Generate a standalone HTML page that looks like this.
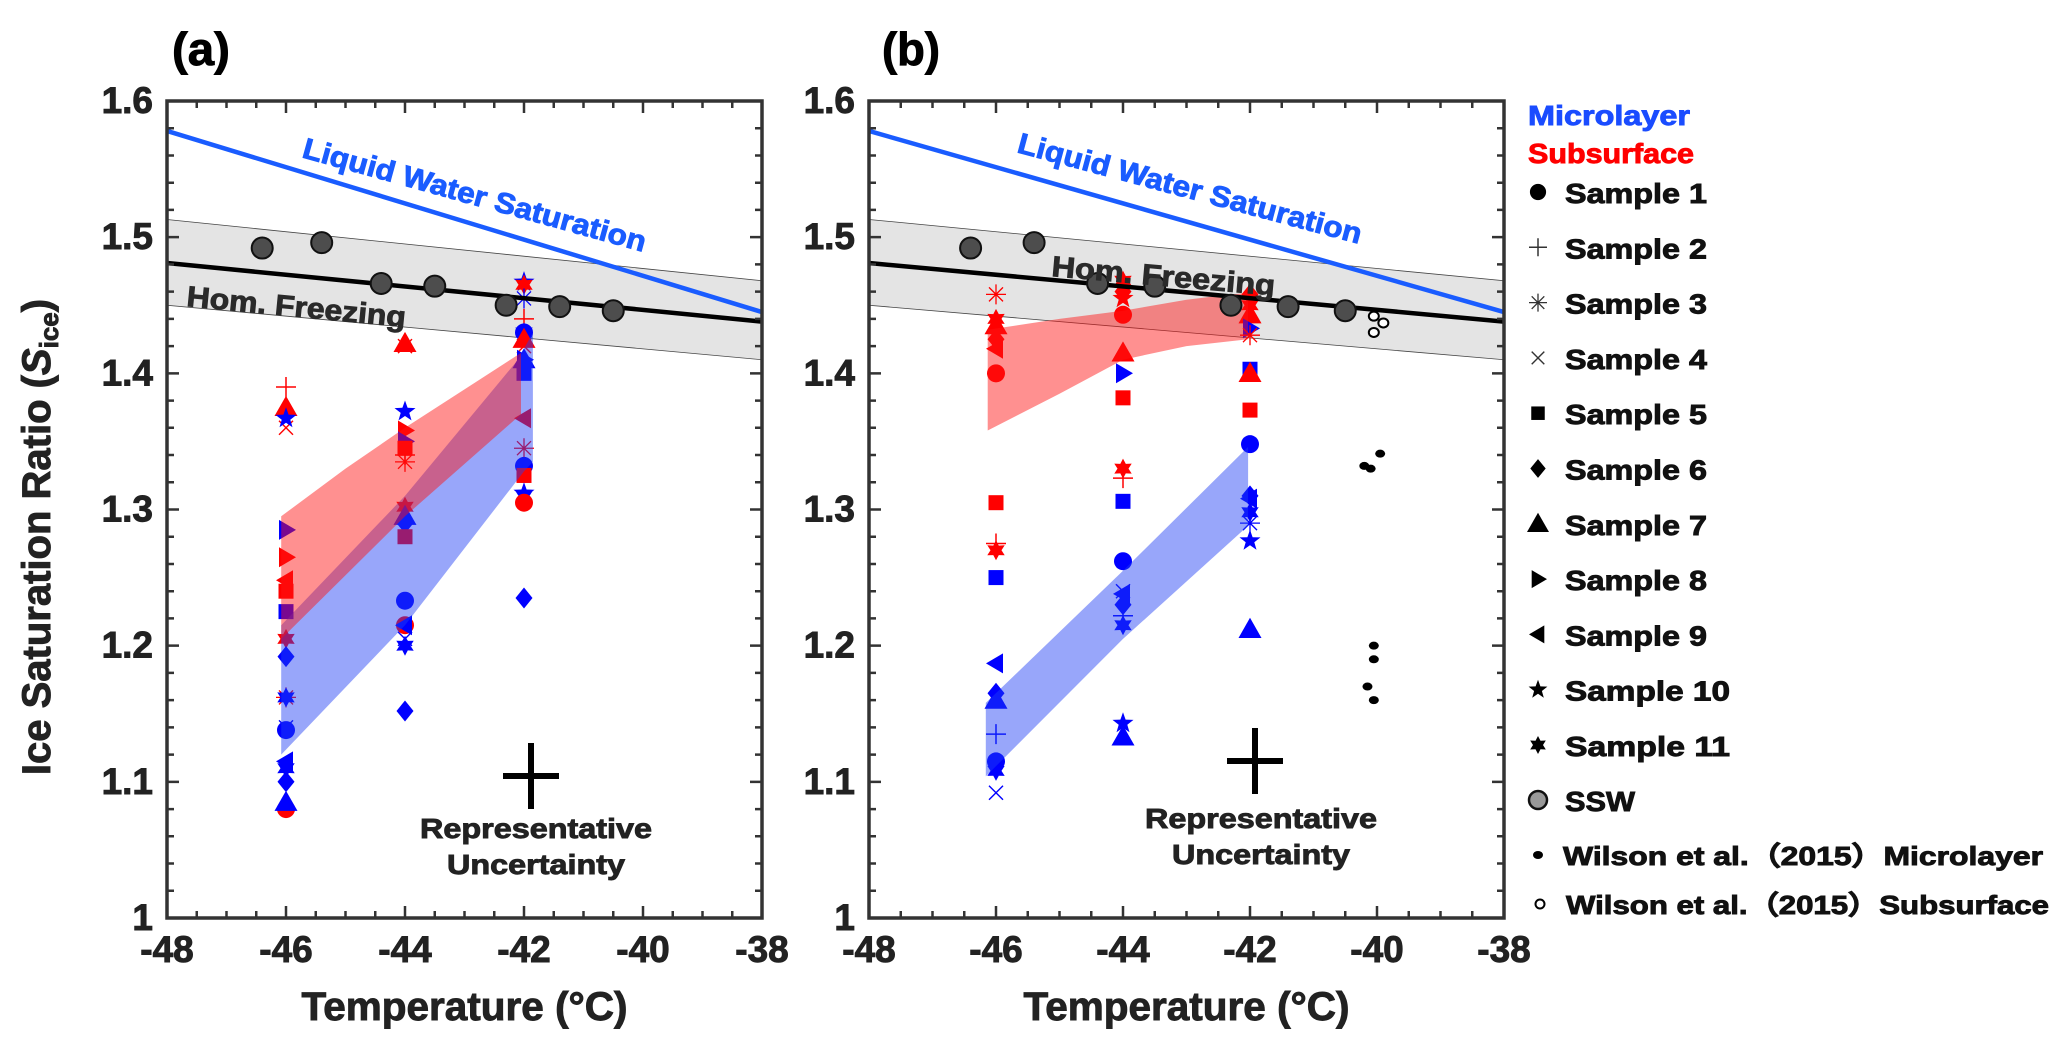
<!DOCTYPE html>
<html><head><meta charset="utf-8"><style>
html,body{margin:0;padding:0;background:#fff;}
svg{display:block;font-family:"Liberation Sans",sans-serif;font-weight:bold;}
svg text{stroke-width:0.9px;paint-order:stroke;}
</style></head><body>
<svg id="fig" width="2067" height="1046" viewBox="0 0 2067 1046" xmlns="http://www.w3.org/2000/svg">
<g id="layer"></g>
</svg>
<script>
// ---- data ----
const xTicks = [-48,-46,-44,-42,-40,-38];
const yTicks = [1,1.1,1.2,1.3,1.4,1.5,1.6];
const yTickLabels = ["1","1.1","1.2","1.3","1.4","1.5","1.6"];
// Panel A markers
const aTemp = [-46,-46,-46,-46,-46,-46,-46,-46,-46,-46,-46,-46,-46,-46,-46,-46,-46,-46,-46,-46,
 -44,-44,-44,-44,-44,-44,-44,-44,-44,-44,-44,-44,-44,-44,-44,-44,-44,-44,
 -42,-42,-42,-42,-42,-42,-42,-42,-42,-42,-42,-42,-42,-42,-42,-42,-42,-42,-42];
const aVal = [1.39,1.375,1.36,1.367,1.285,1.265,1.248,1.24,1.225,1.205,1.192,1.162,1.162,1.14,1.138,1.115,1.11,1.1,1.08,1.085,
 1.422,1.42,1.372,1.358,1.35,1.345,1.34,1.335,1.302,1.295,1.29,1.28,1.233,1.215,1.215,1.205,1.2,1.152,
 1.467,1.465,1.455,1.44,1.43,1.43,1.425,1.42,1.41,1.41,1.4,1.367,1.345,1.332,1.325,1.312,1.31,1.305,1.235];
const aSample = [2,7,4,10,8,8,9,5,5,11,6,3,11,4,1,9,11,6,1,7,
 7,4,10,8,8,5,2,3,11,7,6,5,1,1,9,4,11,6,
 10,11,3,2,1,11,7,4,7,8,5,9,3,1,5,10,11,1,6];
const aGroup = ["r","r","r","b","b","r","r","r","b","r","b","r","b","b","b","b","b","b","r","b",
 "r","r","b","r","b","r","r","r","r","b","b","r","b","r","b","b","b","b",
 "b","r","b","r","b","b","r","r","b","b","b","r","r","b","r","b","b","r","b"];
// Panel B markers
const bTemp = [-46,-46,-46,-46,-46,-46,-46,-46,-46,-46,-46,-46,-46,-46,-46,-46,-46,
 -44,-44,-44,-44,-44,-44,-44,-44,-44,-44,-44,-44,-44,-44,-44,-44,-44,-44,
 -42,-42,-42,-42,-42,-42,-42,-42,-42,-42,-42,-42,-42,-42,-42];
const bVal = [1.458,1.44,1.435,1.425,1.418,1.4,1.305,1.275,1.27,1.25,1.187,1.165,1.16,1.135,1.115,1.108,1.092,
 1.468,1.46,1.455,1.443,1.415,1.4,1.382,1.33,1.323,1.306,1.262,1.24,1.238,1.23,1.222,1.215,1.143,1.133,
 1.458,1.45,1.443,1.433,1.428,1.403,1.4,1.373,1.348,1.31,1.308,1.298,1.29,1.277,1.212];
const bSample = [3,11,7,6,9,1,5,2,11,5,9,6,7,2,1,11,4,
 11,6,10,1,7,8,5,11,2,5,1,4,9,6,2,11,10,7,
 6,11,7,8,3,5,7,5,1,6,9,11,3,10,7];
const bGroup = ["r","r","r","r","r","r","r","r","r","b","b","b","b","b","b","b","b",
 "r","r","r","r","r","b","r","r","r","b","b","b","b","b","b","b","b","b",
 "r","r","r","b","r","b","r","r","b","b","b","b","b","b","b"];
// SSW
const sswTemp = [-46.4,-45.4,-44.4,-43.5,-42.3,-41.4,-40.5];
const sswVal = [1.492,1.496,1.466,1.464,1.45,1.449,1.446];
// Wilson et al. 2015
const wMicroTemp = [-40.2,-40.1,-39.95,-40.05,-40.05,-40.15,-40.05];
const wMicroVal = [1.332,1.330,1.341,1.200,1.190,1.170,1.160];
const wSubTemp = [-40.05,-39.9,-40.05];
const wSubVal = [1.442,1.437,1.430];
// lines
const lineT = [-48,-38];
const lwsVal = [1.578,1.445];
const homVal = [1.481,1.438];
const bandHi = [1.513,1.468];
const bandLo = [1.450,1.410];
// shaded regions
const aRedT = [-46.08,-46.08,-45,-44,-42.05,-42.05,-44,-46.08];
const aRedV = [1.205,1.295,1.33,1.36,1.415,1.37,1.295,1.205];
const aBlueT = [-46.08,-46.08,-44,-42.1,-41.85,-41.85,-42,-44];
const aBlueV = [1.12,1.215,1.31,1.41,1.43,1.335,1.328,1.215];
const bRedT = [-46.13,-46.13,-45,-44,-43,-42.3,-42.03,-42.03,-43,-44,-45];
const bRedV = [1.358,1.432,1.44,1.446,1.454,1.458,1.459,1.425,1.42,1.41,1.385];
const bBlueT = [-46.16,-46.16,-44,-42.03,-42.03,-44];
const bBlueV = [1.104,1.158,1.255,1.346,1.288,1.205];

const NS="http://www.w3.org/2000/svg";
const root=document.getElementById('layer');
function el(tag,attrs,parent){const e=document.createElementNS(NS,tag);for(const k in attrs)e.setAttribute(k,attrs[k]);(parent||root).appendChild(e);return e;}
const COL={r:"#ff0000",b:"#0000ff",k:"#000000"};

function makePanel(x0,x1,y0,y1){
  return {x:t=>x0+(t+48)/10*(x1-x0), y:v=>y1-(v-1)/0.6*(y1-y0), x0,x1,y0,y1};
}
function marker(g,type,cx,cy,c,s){
  let e;
  const poly=pts=>el('polygon',{points:pts.map(p=>p[0].toFixed(1)+','+p[1].toFixed(1)).join(' '),fill:c},g);
  switch(type){
    case 1: e=el('circle',{cx,cy,r:s*0.9,fill:c},g);break;
    case 2: e=el('path',{d:`M${cx-s} ${cy}H${cx+s}M${cx} ${cy-s}V${cy+s}`,stroke:c,'stroke-width':1.5,fill:'none'},g);break;
    case 3: {const d=s*0.7;e=el('path',{d:`M${cx-s} ${cy}H${cx+s}M${cx} ${cy-s}V${cy+s}M${cx-d} ${cy-d}L${cx+d} ${cy+d}M${cx-d} ${cy+d}L${cx+d} ${cy-d}`,stroke:c,'stroke-width':1.3,fill:'none'},g);break;}
    case 4: {const d=s*0.7;e=el('path',{d:`M${cx-d} ${cy-d}L${cx+d} ${cy+d}M${cx-d} ${cy+d}L${cx+d} ${cy-d}`,stroke:c,'stroke-width':1.4,fill:'none'},g);break;}
    case 5: e=el('rect',{x:cx-s*0.75,y:cy-s*0.75,width:s*1.5,height:s*1.5,fill:c},g);break;
    case 6: e=poly([[cx,cy-s*1.05],[cx+s*0.85,cy],[cx,cy+s*1.05],[cx-s*0.85,cy]]);break;
    case 7: e=poly([[cx,cy-s],[cx+s,cy+s*0.75],[cx-s,cy+s*0.75]]);break;
    case 8: e=poly([[cx+s,cy],[cx-s*0.7,cy-s],[cx-s*0.7,cy+s]]);break;
    case 9: e=poly([[cx-s,cy],[cx+s*0.7,cy-s],[cx+s*0.7,cy+s]]);break;
    case 10:{const p=[];for(let i=0;i<10;i++){const a=-Math.PI/2+i*Math.PI/5;const r=i%2?s*0.45:s*1.1;p.push([cx+r*Math.cos(a),cy+r*Math.sin(a)]);}e=poly(p);break;}
    case 11:{const p=[];for(let i=0;i<12;i++){const a=-Math.PI/2+i*Math.PI/6;const r=i%2?s*0.55:s;p.push([cx+r*Math.cos(a),cy+r*Math.sin(a)]);}e=poly(p);break;}
  }
  return e;
}
function polyFill(P,T,V,fill,name){
  const pts=T.map((t,i)=>P.x(t).toFixed(1)+','+P.y(V[i]).toFixed(1)).join(' ');
  const p=el('polygon',{points:pts,fill});
  
  
}
function text(x,y,s,size,attrs){const a=Object.assign({x,y,'font-size':size,fill:'#222'},attrs||{});if(!a.stroke)a.stroke=a.fill;const t=el('text',a);t.textContent=s;return t;}

function drawPanel(P,label,labelX,temps,vals,samples,groups,redT,redV,blueT,blueV,opts){
  const bp=[[lineT[0],bandHi[0]],[lineT[1],bandHi[1]],[lineT[1],bandLo[1]],[lineT[0],bandLo[0]]];
  const band=el('polygon',{points:bp.map(p=>P.x(p[0])+','+P.y(p[1])).join(' '),fill:'#e4e4e4',stroke:'#444','stroke-width':0.8});
  
  
  for(let i=0;i<temps.length;i++){
    const m=marker(root,samples[i],P.x(temps[i]),P.y(vals[i]),COL[groups[i]],samples[i]===7?11.5:10);
    
    
  }
  polyFill(P,blueT,blueV,'rgba(30,60,245,0.46)','microlayer-range-shade');
  polyFill(P,redT,redV,'rgba(255,20,20,0.47)','subsurface-range-shade');
  const hl=el('line',{x1:P.x(lineT[0]),y1:P.y(homVal[0]),x2:P.x(lineT[1]),y2:P.y(homVal[1]),stroke:'#000','stroke-width':4.5});
  
  
  const lw=el('line',{x1:P.x(lineT[0]),y1:P.y(lwsVal[0]),x2:P.x(lineT[1]),y2:P.y(lwsVal[1]),stroke:'#1a5cff','stroke-width':4.5});
  
  
  for(let i=0;i<sswTemp.length;i++){
    const c=el('circle',{cx:P.x(sswTemp[i]),cy:P.y(sswVal[i]),r:10.5,fill:'#4d4d4d',stroke:'#111','stroke-width':2});
    
    
  }
  if(opts.wilson){
    for(let i=0;i<wMicroTemp.length;i++){
      const c=el('ellipse',{cx:P.x(wMicroTemp[i]),cy:P.y(wMicroVal[i]),rx:5,ry:4,fill:'#000'});
      
      
    }
    for(let i=0;i<wSubTemp.length;i++){
      const c=el('ellipse',{cx:P.x(wSubTemp[i]),cy:P.y(wSubVal[i]),rx:5,ry:4.5,fill:'#fff',stroke:'#000','stroke-width':2});
      
      
    }
  }
  const lt=text(opts.lwsX,opts.lwsY,'Liquid Water Saturation',29,{fill:'#1a5cff',transform:`rotate(${opts.lwsRot} ${opts.lwsX} ${opts.lwsY})`,textLength:opts.lwsLen,lengthAdjust:'spacingAndGlyphs'});
  
  
  const ht=text(opts.homX,opts.homY,'Hom. Freezing',29,{fill:'#2a2a2a',transform:`rotate(${opts.homRot} ${opts.homX} ${opts.homY})`,textLength:opts.homLen,lengthAdjust:'spacingAndGlyphs'});
  
  
  const cr=el('path',{d:`M${opts.cx-28} ${opts.cy}H${opts.cx+28}M${opts.cx} ${opts.cy-33}V${opts.cy+33}`,stroke:'#000','stroke-width':6,fill:'none'});
  
  
  const r1=text(opts.tx,opts.ty,'Representative',28,{'text-anchor':'middle',textLength:232,lengthAdjust:'spacingAndGlyphs'});
  
  
  const r2=text(opts.tx,opts.ty+36,'Uncertainty',28,{'text-anchor':'middle',textLength:178,lengthAdjust:'spacingAndGlyphs'});
  
  
  const fr=el('rect',{x:P.x0,y:P.y0,width:P.x1-P.x0,height:P.y1-P.y0,fill:'none',stroke:'#333','stroke-width':3.5});
  
  
  let d='';
  for(let t=-48;t<=-38.01;t+=0.5){
    const x=P.x(t);const L=(Math.abs(t-Math.round(t))<0.01 && Math.round(t)%2===0)?12:7;
    d+=`M${x} ${P.y1}v${-L}M${x} ${P.y0}v${L}`;
  }
  for(let k=0;k<=30;k++){
    const v=1+k*0.02;const y=P.y(v);const L=(k%5===0)?12:7;
    d+=`M${P.x0} ${y}h${L}M${P.x1} ${y}h${-L}`;
  }
  const tk=el('path',{d,stroke:'#333','stroke-width':2.5,fill:'none'});
  
  
  xTicks.forEach(t=>{
    const l=text(P.x(t),962,String(t),37,{'text-anchor':'middle'});
    
    
  });
  yTicks.forEach((v,i)=>{
    const l=text(P.x0-14,P.y(v)+12,yTickLabels[i],37,{'text-anchor':'end'});
    
    
  });
  const xt=text((P.x0+P.x1)/2,1020,'Temperature (°C)',40,{'text-anchor':'middle',textLength:326,lengthAdjust:'spacingAndGlyphs'});
  
  
  const pl=text(labelX,65,label,46,{fill:'#000',textLength:58,lengthAdjust:'spacingAndGlyphs'});
  
  
}

const PA=makePanel(167,762,101,918);
const PB=makePanel(869,1504,101,918);
drawPanel(PA,'(a)',172,aTemp,aVal,aSample,aGroup,aRedT,aRedV,aBlueT,aBlueV,
 {wilson:false,lwsX:301,lwsY:157,lwsRot:15.5,lwsLen:355,homX:186,homY:306,homRot:5.5,homLen:220,cx:531,cy:776,tx:536,ty:838});
drawPanel(PB,'(b)',882,bTemp,bVal,bSample,bGroup,bRedT,bRedV,bBlueT,bBlueV,
 {wilson:true,lwsX:1016,lwsY:152,lwsRot:15,lwsLen:355,homX:1051,homY:276,homRot:5,homLen:224,cx:1255,cy:761,tx:1261,ty:828});

const yt=el('text',{x:0,y:0,'font-size':40,fill:'#222',stroke:'#222','text-anchor':'middle',transform:'translate(50 537) rotate(-90)'});


yt.innerHTML='Ice Saturation Ratio (<tspan font-style="italic">S</tspan><tspan font-size="26" dy="8">ice</tspan><tspan dy="-8">)</tspan>';

const lg=el('g',{});


const l1=text(1528,125,'Microlayer',28,{fill:'#1a4cff',textLength:162,lengthAdjust:'spacingAndGlyphs'});lg.appendChild(l1);


const l2=text(1528,163,'Subsurface',28,{fill:'#ff0000',textLength:166,lengthAdjust:'spacingAndGlyphs'});lg.appendChild(l2);


for(let i=1;i<=11;i++){
  const y=192+(i-1)*55.3;
  const m=marker(lg,i,1538,y,'#000',i===7?11:9);
  if(i===2||i===3||i===4)m.setAttribute('stroke','#333');
  
  
  const t=text(1565,y+11,'Sample '+i,28,{fill:'#111',textLength:i>=10?165:142,lengthAdjust:'spacingAndGlyphs'});lg.appendChild(t);
  
  
}
const sc=el('circle',{cx:1538,cy:800,r:9,fill:'#999',stroke:'#111','stroke-width':2.5},lg);


const st=text(1565,811,'SSW',28,{fill:'#111',textLength:70,lengthAdjust:'spacingAndGlyphs'});lg.appendChild(st);


const wm=el('ellipse',{cx:1538,cy:855,rx:5,ry:4,fill:'#000'},lg);


const wt=text(1563,865,'Wilson et al.（2015）Microlayer',26,{fill:'#111',textLength:480,lengthAdjust:'spacingAndGlyphs'});lg.appendChild(wt);


const ws=el('ellipse',{cx:1540,cy:904,rx:4.5,ry:4.5,fill:'#fff',stroke:'#000','stroke-width':2},lg);


const wt2=text(1566,914,'Wilson et al.（2015）Subsurface',26,{fill:'#111',textLength:483,lengthAdjust:'spacingAndGlyphs'});lg.appendChild(wt2);


</script>
</body></html>
